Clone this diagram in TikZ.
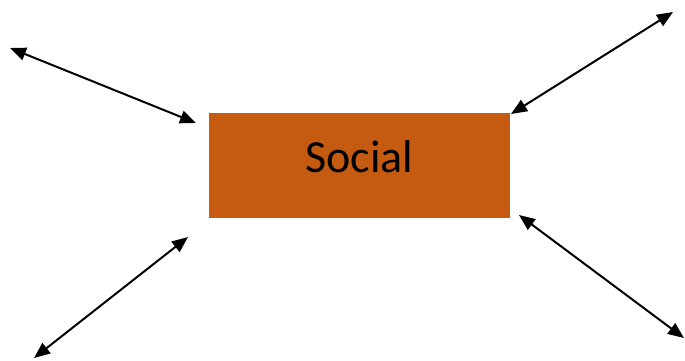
\documentclass[tikz,border=0pt]{standalone}
\usepackage{fontspec}
\setmainfont{Carlito}
\usetikzlibrary{arrows.meta}
\definecolor{boxorange}{HTML}{C55A11}
\tikzset{
  link/.style={line width=2pt, {Triangle[length=16pt,width=13pt]}-{Triangle[length=16pt,width=13pt]}},
  socialbox/.style={fill=boxorange, draw=none, minimum width=301pt, minimum height=105pt, inner sep=0pt},
  socialtext/.style={inner sep=0pt, font=\fontsize{46}{50}\selectfont, text=black}
}
\begin{document}
\begin{tikzpicture}[x=1pt,y=1pt]
\useasboundingbox (0,0) rectangle (685,360);
\node[socialbox] (social) at (359.5,194.5) {};
\node[socialtext, anchor=base] (label) at ([yshift=-6.5pt]social.center) {Social};
\coordinate (tlout) at (10,312);
\coordinate (tlin) at (196,237);
\coordinate (trout) at (673,348);
\coordinate (trin) at (511,246);
\coordinate (blout) at (34,2);
\coordinate (blin) at (188,123);
\coordinate (brout) at (684,22);
\coordinate (brin) at (519,145);
\draw[link] (tlout) -- (tlin);
\draw[link] (trout) -- (trin);
\draw[link] (blout) -- (blin);
\draw[link] (brout) -- (brin);
\end{tikzpicture}
\end{document}
